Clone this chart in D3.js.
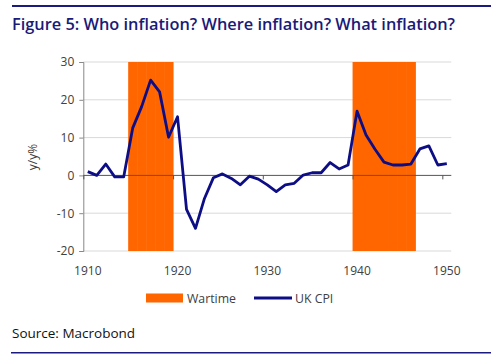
<!DOCTYPE html>
<html><head><meta charset="utf-8">
<script src="https://cdn.jsdelivr.net/npm/d3@7"></script>
<style>body{margin:0;background:#fff}svg{display:block}</style>
</head><body>
<svg id="c" width="500" height="358"></svg>
<script>
const years = d3.range(1910, 1951);
const ukCpi = [1.0, 0.0, 3.0, -0.4, -0.4, 12.5, 18.2, 25.2, 22.1, 10.1,
  15.5, -9.0, -14.0, -6.1, -0.6, 0.4, -0.8, -2.5, -0.2, -1.0,
  -2.5, -4.3, -2.5, -2.1, 0.1, 0.7, 0.7, 3.4, 1.7, 2.75,
  17.0, 10.7, 6.9, 3.5, 2.75, 2.75, 3.0, 7.0, 7.8, 2.75, 3.1];
const wartimeYears = [1915, 1916, 1917, 1918, 1919, 1940, 1941, 1942, 1943, 1944, 1945, 1946];
const xTicks = [1910, 1920, 1930, 1940, 1950];
const yTicks = [-20, -10, 0, 10, 20, 30];
const title = "Figure 5: Who inflation? Where inflation? What inflation?";
const source = "Source: Macrobond";
const yLabel = "y/y%";

const navy = "#0d0d85", orange = "#ff6600";
const svg = d3.select("#c");
const ff = "'Open Sans', sans-serif";

const x = d3.scaleLinear().domain([1910, 1951]).range([83.3, 451.3]);
const y = d3.scaleLinear().domain([-20, 30]).range([251, 62]);

// rules
svg.append("line").attr("x1", 12).attr("x2", 491).attr("y1", 6).attr("y2", 6)
  .attr("stroke", "#1a1a80").attr("stroke-width", 2.2);
svg.append("line").attr("x1", 11).attr("x2", 491).attr("y1", 352.7).attr("y2", 352.7)
  .attr("stroke", "#1a1a80").attr("stroke-width", 1.4);

svg.append("text").attr("x", 12).attr("y", 29.5).text(title)
  .attr("font-family", ff).attr("font-weight", 600)
  .attr("font-size", 16).attr("fill", "#1a1a78")
  .attr("textLength", 443).attr("lengthAdjust", "spacingAndGlyphs");

// gridlines
svg.append("g").selectAll("line").data(yTicks.filter(d => d !== 0)).join("line")
  .attr("x1", x(1910)).attr("x2", x(1951)).attr("y1", d => y(d)).attr("y2", d => y(d))
  .attr("stroke", "#d9d9d9").attr("stroke-width", 1);

// wartime bars
svg.append("g").selectAll("rect").data(wartimeYears).join("rect")
  .attr("x", d => x(d)).attr("width", d => x(d + 1) - x(d) + 0.5)
  .attr("y", y(30)).attr("height", y(-20) - y(30)).attr("fill", orange);

// y axis
const yAxis = d3.axisLeft(y).tickValues(yTicks).tickSize(4).tickPadding(5)
  .tickFormat(d => String(d));
const gy = svg.append("g").attr("transform", `translate(${x(1910)},0)`).call(yAxis);
gy.select(".domain").attr("stroke", "#888");
gy.selectAll(".tick line").attr("stroke", "#888");
gy.selectAll("text").attr("font-family", ff).attr("font-size", 12).attr("fill", "#404040");

// zero line with ticks
const xAxis = d3.axisBottom(x).tickValues(xTicks).tickSize(4).tickFormat("");
const gx = svg.append("g").attr("transform", `translate(0,${y(0)})`).call(xAxis);
gx.select(".domain").attr("stroke", "#555").attr("d", `M${x(1910)},0H${x(1951)}`);
gx.selectAll(".tick line").attr("stroke", "#555");

// x tick labels (centered on mid-year)
svg.append("g").selectAll("text").data(xTicks).join("text")
  .attr("x", d => x(d + 0.5)).attr("y", 274.5).attr("text-anchor", "middle")
  .attr("font-family", ff).attr("font-size", 12).attr("fill", "#404040")
  .text(d => d);

// y label
svg.append("text").attr("transform", "translate(37,157) rotate(-90)")
  .attr("text-anchor", "middle").attr("font-family", ff)
  .attr("font-size", 12).attr("fill", "#404040").text(yLabel);

// line
const line = d3.line().x((d, i) => x(years[i] + 0.5)).y(d => y(d));
svg.append("path").datum(ukCpi).attr("d", line).attr("fill", "none")
  .attr("stroke", navy).attr("stroke-width", 2.8).attr("stroke-linejoin", "round");

// legend
const lg = svg.append("g");
lg.append("rect").attr("x", 146).attr("y", 293.5).attr("width", 37).attr("height", 9).attr("fill", orange);
lg.append("text").attr("x", 187).attr("y", 302.5).text("Wartime")
  .attr("font-family", ff).attr("font-size", 12.3).attr("fill", "#404040");
lg.append("line").attr("x1", 254).attr("x2", 292).attr("y1", 298).attr("y2", 298)
  .attr("stroke", navy).attr("stroke-width", 3);
lg.append("text").attr("x", 295).attr("y", 302.5).text("UK CPI")
  .attr("font-family", ff).attr("font-size", 12.3).attr("fill", "#404040");

svg.append("text").attr("x", 12).attr("y", 337.5).text(source)
  .attr("font-family", ff).attr("font-size", 13.5).attr("fill", "#111");
</script>
</body></html>
